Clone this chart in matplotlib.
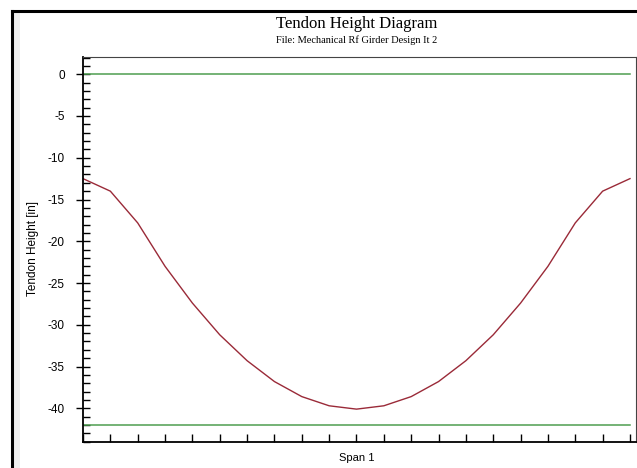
import matplotlib
matplotlib.use("Agg")
import matplotlib.pyplot as plt
from matplotlib.lines import Line2D
from matplotlib.patches import Rectangle

plt.rcParams["axes.unicode_minus"] = False

# tendon profile along span 1 (fraction of span)
span = [0.0, 0.05, 0.1, 0.15, 0.2, 0.25, 0.3, 0.35, 0.4, 0.45, 0.5,
        0.55, 0.6, 0.65, 0.7, 0.75, 0.8, 0.85, 0.9, 0.95, 1.0]
tendon_height = [-12.5, -14.0, -17.8, -23.0, -27.4, -31.2, -34.3, -36.8, -38.6, -39.7, -40.1,
                 -39.7, -38.6, -36.8, -34.3, -31.2, -27.4, -23.0, -17.8, -14.0, -12.5]
# top and bottom of section
section_top = [0, 0]
section_bottom = [-42, -42]
span_ends = [span[0], span[-1]]

W, H = 637, 468
fig = plt.figure(figsize=(W / 100, H / 100), dpi=100)
fig.patch.set_facecolor("white")

# window frame
fig.add_artist(Rectangle((13 / W, 0), 7 / W, 1 - 12 / H, transform=fig.transFigure,
                         facecolor="#efefef", edgecolor="none"))
fig.add_artist(Line2D([12 / W, 12 / W], [0, 1 - 11 / H], transform=fig.transFigure,
                      color="black", lw=2.2))
fig.add_artist(Line2D([12 / W, 1], [1 - 11 / H, 1 - 11 / H], transform=fig.transFigure,
                      color="black", lw=2.2))

ax = fig.add_axes([83 / W, 1 - 441.7 / H, (636 - 83) / W, (441.7 - 56.7) / H])
ax.plot(span_ends, section_top, color="#4e9e50", lw=1.1)
ax.plot(span_ends, section_bottom, color="#4e9e50", lw=1.1)
ax.plot(span, tendon_height, color="#9a2a38", lw=1.0)

ax.set_xlim(0, 1.011)
ax.set_ylim(-44, 2.1)

ax.set_xticks(span)
ax.set_xticklabels([])
ax.tick_params(axis="x", direction="in", length=6, width=1, color="black", top=False)
ax.set_yticks(range(-40, 1, 5))
ax.set_yticks(range(-44, 3), minor=True)
ax.tick_params(axis="y", which="major", direction="inout", length=10, width=1,
               color="black", labelsize=8.5, pad=8, right=False)
ax.tick_params(axis="y", which="minor", direction="in", length=5, width=1,
               color="black", right=False)
for lab in ax.get_yticklabels():
    lab.set_family("Liberation Sans")

ax.spines["left"].set_linewidth(1.3)
ax.spines["bottom"].set_linewidth(1.3)
ax.spines["top"].set_color("#444444")
ax.spines["right"].set_color("#444444")

fig.text(357 / W, 1 - 24 / H, "Tendon Height Diagram", family="Liberation Serif",
         fontsize=12, ha="center", va="center")
fig.text(357 / W, 1 - 40 / H, "File: Mechanical Rf Girder Design It 2", family="Liberation Serif",
         fontsize=7.5, ha="center", va="center")
fig.text(357 / W, 1 - 458 / H, "Span 1", family="Liberation Sans", fontsize=8,
         ha="center", va="center")
fig.text(33 / W, 1 - 249 / H, "Tendon Height [in]", family="Liberation Sans", fontsize=8.5,
         ha="center", va="center", rotation=90)

fig.savefig("out.png", dpi=100)
